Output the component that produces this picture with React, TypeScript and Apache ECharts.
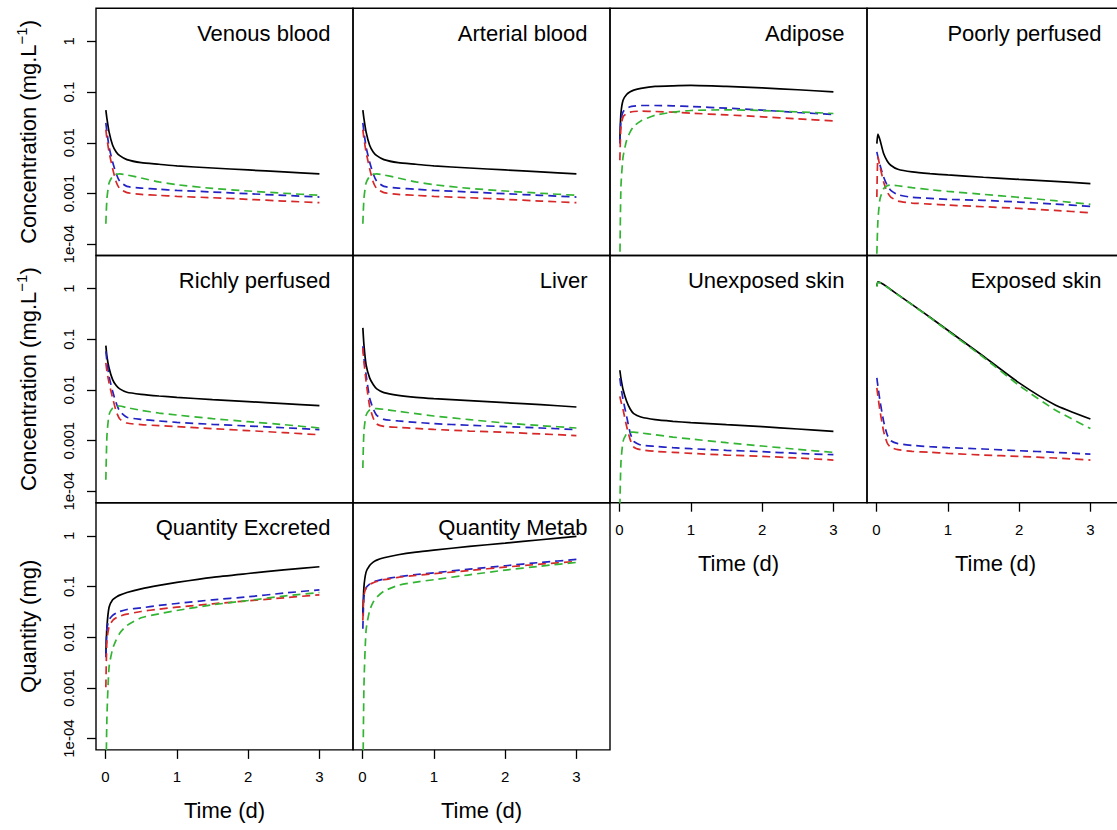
import React, { useEffect, useRef } from "react";
import * as echarts from "echarts";

// ---------- data ----------
const TIME = [0.005, 0.02, 0.05, 0.1, 0.15, 0.2, 0.3, 0.5, 0.75, 1, 1.5, 2, 2.5, 3];
const Y_TICKS = [1e-4, 0.001, 0.01, 0.1, 1];
const Y_TICK_LABELS = ["1e-04", "0.001", "0.01", "0.1", "1"];
const X_TICKS = [0, 1, 2, 3];

const venousTotal = [0.044, 0.0301, 0.0164, 0.00893, 0.0066, 0.00558, 0.00466, 0.00406, 0.00377, 0.00349, 0.00318, 0.00291, 0.00266, 0.00243];
const venousBlue = [0.0247, 0.0164, 0.00829, 0.00419, 0.00246, 0.00174, 0.00138, 0.00128, 0.00121, 0.00115, 0.00107, 0.00099, 0.000919, 0.000851];
const venousRed = [0.0182, 0.0121, 0.0066, 0.00309, 0.00169, 0.00124, 0.00104, 0.00096, 0.000919, 0.000878, 0.000826, 0.000766, 0.00071, 0.000658];
const venousGreen = [0.000253, 0.00079, 0.00161, 0.00218, 0.00239, 0.00243, 0.00232, 0.00202, 0.00169, 0.00149, 0.00126, 0.00112, 0.00101, 0.000919];

const arterialTotal = [0.044, 0.0301, 0.0164, 0.00893, 0.0066, 0.00558, 0.00466, 0.00406, 0.00377, 0.00349, 0.00318, 0.00291, 0.00266, 0.00243];
const arterialBlue = [0.0247, 0.0164, 0.00829, 0.00419, 0.00246, 0.00174, 0.00138, 0.00128, 0.00121, 0.00115, 0.00107, 0.00099, 0.000919, 0.000851];
const arterialRed = [0.0182, 0.0121, 0.0066, 0.00309, 0.00169, 0.00124, 0.00104, 0.00096, 0.000919, 0.000878, 0.000826, 0.000766, 0.00071, 0.000658];
const arterialGreen = [0.000253, 0.00079, 0.00161, 0.00218, 0.00239, 0.00243, 0.00232, 0.00202, 0.00169, 0.00149, 0.00126, 0.00112, 0.00101, 0.000919];

const adiposeTotal = [0.0112, 0.0378, 0.0693, 0.0896, 0.101, 0.109, 0.118, 0.129, 0.133, 0.135, 0.129, 0.121, 0.111, 0.101];
const adiposeBlue = [0.00964, 0.0279, 0.0407, 0.0474, 0.0512, 0.0527, 0.0543, 0.0543, 0.0535, 0.0519, 0.0482, 0.044, 0.0395, 0.0361];
const adiposeRed = [0.00452, 0.0206, 0.0325, 0.0378, 0.0401, 0.0414, 0.042, 0.0414, 0.0401, 0.0383, 0.0355, 0.0325, 0.0296, 0.027];
const adiposeGreen = [0.00004, 0.00134, 0.00526, 0.0112, 0.0164, 0.0212, 0.027, 0.035, 0.0401, 0.0433, 0.0446, 0.0433, 0.0407, 0.0378];

const poorlyTotal = [0.00964, 0.01475, 0.0112, 0.00612, 0.00438, 0.0036, 0.003, 0.00266, 0.00246, 0.00232, 0.00209, 0.0019, 0.00174, 0.00156];
const poorlyBlue = [0.0066, 0.00526, 0.0036, 0.00211, 0.00145, 0.00115, 0.000947, 0.000839, 0.000801, 0.000766, 0.000732, 0.000678, 0.000619, 0.000557];
const poorlyRed = [0.000851, 0.00526, 0.00334, 0.00169, 0.00107, 0.000851, 0.00071, 0.000648, 0.000619, 0.000591, 0.000548, 0.000508, 0.000464, 0.000417];
const poorlyGreen = [0.0000646, 0.000294, 0.00079, 0.00124, 0.00142, 0.00147, 0.00142, 0.0013, 0.00119, 0.0011, 0.00096, 0.000839, 0.000721, 0.00061];

const richlyTotal = [0.075, 0.0462, 0.0272, 0.016, 0.0122, 0.0105, 0.009, 0.00821, 0.00761, 0.00716, 0.00645, 0.00589, 0.00537, 0.0049];
const richlyBlue = [0.058, 0.0368, 0.0186, 0.00941, 0.00554, 0.0038, 0.00289, 0.00264, 0.00245, 0.0023, 0.0021, 0.00195, 0.0018, 0.00165];
const richlyRed = [0.0341, 0.0234, 0.0138, 0.00695, 0.0038, 0.00268, 0.00223, 0.00207, 0.00198, 0.00189, 0.00173, 0.00158, 0.00144, 0.00131];
const richlyGreen = [0.00017, 0.00122, 0.00326, 0.00441, 0.00483, 0.00483, 0.00448, 0.00397, 0.00351, 0.00321, 0.00272, 0.00237, 0.00207, 0.00178];

const liverTotal = [0.1675, 0.0785, 0.0316, 0.0173, 0.0128, 0.0105, 0.00886, 0.00785, 0.00716, 0.00675, 0.00616, 0.00562, 0.00513, 0.00462];
const liverBlue = [0.0728, 0.0428, 0.0201, 0.00695, 0.00428, 0.00316, 0.00264, 0.00245, 0.0023, 0.00217, 0.00201, 0.00189, 0.00178, 0.00165];
const liverRed = [0.0675, 0.0368, 0.0148, 0.00476, 0.0028, 0.00213, 0.00192, 0.00183, 0.00175, 0.00167, 0.00155, 0.00146, 0.00136, 0.00126];
const liverGreen = [0.000289, 0.00153, 0.00316, 0.00403, 0.00428, 0.00428, 0.00415, 0.0038, 0.00341, 0.00307, 0.0026, 0.00223, 0.00198, 0.00178];

const unexposedTotal = [0.0245, 0.0172, 0.0102, 0.00598, 0.00422, 0.00341, 0.00293, 0.0026, 0.00241, 0.00227, 0.00207, 0.00189, 0.0017, 0.00153];
const unexposedBlue = [0.0172, 0.0118, 0.00645, 0.00302, 0.00142, 0.00097, 0.000821, 0.000773, 0.000728, 0.000695, 0.000645, 0.000607, 0.000562, 0.000529];
const unexposedRed = [0.0075, 0.00598, 0.00409, 0.00192, 0.00105, 0.00075, 0.000664, 0.000616, 0.000589, 0.000562, 0.000521, 0.00049, 0.000455, 0.000415];
const unexposedGreen = [0.00005, 0.000362, 0.00097, 0.00138, 0.00148, 0.00148, 0.00142, 0.00131, 0.00118, 0.00108, 0.000913, 0.000785, 0.000674, 0.000589];

const exposedTotal = [1.112, 1.354, 1.314, 1.199, 1.079, 0.956, 0.761, 0.483, 0.272, 0.151, 0.0462, 0.0138, 0.00513, 0.00268];
const exposedBlue = [0.0173, 0.0118, 0.00598, 0.00241, 0.00131, 0.001, 0.000873, 0.000809, 0.000761, 0.000728, 0.000685, 0.000635, 0.000589, 0.000545];
const exposedRed = [0.011, 0.0075, 0.0038, 0.00153, 0.000899, 0.000739, 0.000664, 0.000616, 0.000589, 0.000562, 0.000521, 0.00049, 0.000455, 0.000415];
const exposedGreen = [1.095, 1.333, 1.294, 1.181, 1.063, 0.941, 0.75, 0.476, 0.268, 0.146, 0.0441, 0.0123, 0.00409, 0.00173];

const excretedTotal = [0.00469, 0.0158, 0.039, 0.0546, 0.0616, 0.0675, 0.0761, 0.0899, 0.105, 0.12, 0.151, 0.18, 0.213, 0.245];
const excretedBlue = [0.00403, 0.0146, 0.022, 0.0268, 0.0298, 0.0321, 0.0351, 0.0379, 0.0422, 0.0462, 0.0546, 0.0625, 0.0739, 0.086];
const excretedRed = [0.00103, 0.0086, 0.0162, 0.0213, 0.0241, 0.026, 0.0284, 0.0321, 0.0357, 0.039, 0.0455, 0.0521, 0.0597, 0.0685];
const excretedGreen = [0.00001, 0.000264, 0.00256, 0.00589, 0.00886, 0.012, 0.017, 0.0241, 0.0289, 0.0336, 0.0435, 0.0529, 0.0645, 0.0761];

const metabTotal = [0.0289, 0.097, 0.192, 0.26, 0.302, 0.331, 0.368, 0.422, 0.476, 0.521, 0.616, 0.716, 0.834, 0.97];
const metabBlue = [0.0146, 0.0616, 0.0941, 0.111, 0.122, 0.129, 0.14, 0.155, 0.172, 0.186, 0.22, 0.256, 0.298, 0.341];
const metabRed = [0.0213, 0.0665, 0.0941, 0.11, 0.118, 0.126, 0.136, 0.151, 0.165, 0.178, 0.207, 0.241, 0.276, 0.312];
const metabGreen = [0.00001, 0.00103, 0.0136, 0.0336, 0.049, 0.0616, 0.0809, 0.105, 0.122, 0.136, 0.17, 0.21, 0.252, 0.298];

const PANELS = [
  { title: "Venous blood", row: 0, col: 0, total: venousTotal, blue: venousBlue, red: venousRed, green: venousGreen },
  { title: "Arterial blood", row: 0, col: 1, total: arterialTotal, blue: arterialBlue, red: arterialRed, green: arterialGreen },
  { title: "Adipose", row: 0, col: 2, total: adiposeTotal, blue: adiposeBlue, red: adiposeRed, green: adiposeGreen },
  { title: "Poorly perfused", row: 0, col: 3, total: poorlyTotal, blue: poorlyBlue, red: poorlyRed, green: poorlyGreen },
  { title: "Richly perfused", row: 1, col: 0, total: richlyTotal, blue: richlyBlue, red: richlyRed, green: richlyGreen },
  { title: "Liver", row: 1, col: 1, total: liverTotal, blue: liverBlue, red: liverRed, green: liverGreen },
  { title: "Unexposed skin", row: 1, col: 2, total: unexposedTotal, blue: unexposedBlue, red: unexposedRed, green: unexposedGreen, xAxisShown: true },
  { title: "Exposed skin", row: 1, col: 3, total: exposedTotal, blue: exposedBlue, red: exposedRed, green: exposedGreen, xAxisShown: true },
  { title: "Quantity Excreted", row: 2, col: 0, total: excretedTotal, blue: excretedBlue, red: excretedRed, green: excretedGreen, xAxisShown: true },
  { title: "Quantity Metab", row: 2, col: 1, total: metabTotal, blue: metabBlue, red: metabRed, green: metabGreen, xAxisShown: true },
];

const ROW_Y_NAMES = ["Concentration (mg.L", "Concentration (mg.L", "Quantity (mg)"];

// ---------- layout / style ----------
const FONT = "Liberation Sans, Arial, sans-serif";
const PANEL_LEFT = 96;
const PANEL_TOP = 8.3;
const PANEL_W = 257;
const PANEL_H = 247.2;
const X_MIN = -0.1332;
const X_MAX = 3.471;
const Y_MIN = -4.223;
const Y_MAX = 0.652;
const COLORS = { total: "#000000", blue: "#2323C4", red: "#D62828", green: "#33B533" };

function buildOption() {
  const logTicks = Y_TICKS.map((v) => Math.log10(v));
  const grids: any[] = [];
  const xAxes: any[] = [];
  const yAxes: any[] = [];
  const series: any[] = [];
  const graphics: any[] = [];

  PANELS.forEach((p, i) => {
    const left = PANEL_LEFT + p.col * PANEL_W;
    const top = PANEL_TOP + p.row * PANEL_H;
    grids.push({
      left, top, width: PANEL_W, height: PANEL_H,
      show: true, borderColor: "#000", borderWidth: 1.4, backgroundColor: "transparent",
      containLabel: false, outerBoundsMode: "none",
    });
    const showX = !!(p as any).xAxisShown;
    xAxes.push({
      type: "value", gridIndex: i, min: X_MIN, max: X_MAX, position: "bottom",
      axisLine: { show: false, onZero: false }, splitLine: { show: false },
      axisTick: { show: showX, customValues: X_TICKS, length: 9, lineStyle: { color: "#000", width: 1.3 } },
      axisLabel: { show: showX, customValues: X_TICKS, margin: 19, fontSize: 15, color: "#000", fontFamily: FONT },
      name: showX ? "Time (d)" : "", nameLocation: "middle", nameGap: 50,
      nameTextStyle: { fontSize: 22, color: "#000", fontFamily: FONT },
    });
    const showY = p.col === 0;
    yAxes.push({
      type: "value", gridIndex: i, min: Y_MIN, max: Y_MAX, position: "left",
      axisLine: { show: false, onZero: false }, splitLine: { show: false },
      axisTick: { show: showY, customValues: logTicks, length: 9, lineStyle: { color: "#000", width: 1.3 } },
      axisLabel: {
        show: showY, customValues: logTicks, rotate: 90, margin: 20, fontSize: 15, color: "#000", fontFamily: FONT,
        formatter: (v: number) => {
          const k = logTicks.findIndex((t) => Math.abs(t - v) < 1e-6);
          return k >= 0 ? Y_TICK_LABELS[k] : "";
        },
      },
    });
    (["total", "blue", "red", "green"] as const).forEach((key) => {
      const vals = (p as any)[key] as number[];
      series.push({
        name: `${p.title} ${key}`,
        type: "line", xAxisIndex: i, yAxisIndex: i,
        data: TIME.map((t, j) => [t, Math.log10(vals[j])]),
        showSymbol: false, symbol: "none", smooth: 0.2, clip: true,
        lineStyle: {
          color: COLORS[key], width: 1.7,
          type: key === "total" ? "solid" : [8, 5],
        },
        silent: true,
      });
    });
    graphics.push({
      type: "text", silent: true,
      style: {
        text: p.title, x: left + PANEL_W - 22.5, y: top + 25,
        textAlign: "right", textVerticalAlign: "middle",
        font: `22px ${FONT}`, fill: "#000",
      },
    });
  });

  ROW_Y_NAMES.forEach((name, r) => {
    const cy = PANEL_TOP + r * PANEL_H + PANEL_H / 2;
    const withUnit = r < 2;
    graphics.push({
      type: "text", silent: true, x: 28, y: cy, rotation: Math.PI / 2,
      style: {
        text: withUnit ? `{a|${name}}{s|−1}{a|)}` : `{a|${name}}`,
        rich: {
          a: { fontSize: 22, fontFamily: FONT, fill: "#000", color: "#000", lineHeight: 28 },
          s: { fontSize: 15, fontFamily: FONT, fill: "#000", color: "#000", lineHeight: 18, verticalAlign: "top" },
        },
        textAlign: "center", textVerticalAlign: "middle",
        font: `22px ${FONT}`, fill: "#000",
      },
    });
  });

  return {
    animation: false,
    backgroundColor: "#fff",
    grid: grids,
    xAxis: xAxes,
    yAxis: yAxes,
    series,
    graphic: { elements: graphics },
  };
}

export default function App() {
  const ref = useRef<HTMLDivElement>(null);
  useEffect(() => {
    if (!ref.current) return;
    const chart = echarts.init(ref.current, undefined, { renderer: "svg" });
    chart.setOption(buildOption() as any);
    return () => chart.dispose();
  }, []);
  return (
    <div
      ref={ref}
      style={{ position: "absolute", left: 0, top: 0, width: 1117, height: 830, background: "#fff" }}
    />
  );
}
